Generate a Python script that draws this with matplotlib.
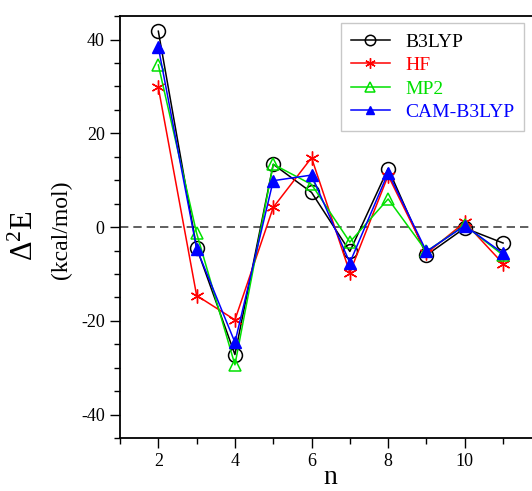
import matplotlib.pyplot as plt
from matplotlib.ticker import MultipleLocator, FixedLocator

n = [2, 3, 4, 5, 6, 7, 8, 9, 10, 11]
b3lyp = [41.8, -4.4, -27.2, 13.4, 7.4, -5.2, 12.5, -6.0, -0.2, -3.4]
hf = [29.8, -14.6, -19.8, 4.2, 14.8, -9.7, 11.0, -5.6, 1.0, -7.8]
mp2 = [34.6, -1.3, -29.4, 13.4, 9.1, -3.2, 6.0, -5.2, 0.4, -6.0]
cam_b3lyp = [38.4, -4.6, -24.6, 9.9, 11.1, -7.6, 11.6, -5.2, 0.3, -5.6]

plt.rcParams['font.family'] = ['Liberation Serif', 'DejaVu Serif']
plt.rcParams['mathtext.fontset'] = 'custom'
plt.rcParams['mathtext.rm'] = 'Liberation Serif'
plt.rcParams['mathtext.it'] = 'Liberation Serif:italic'
plt.rcParams['axes.unicode_minus'] = False

fig = plt.figure(figsize=(5.32, 4.91), dpi=100)
ax = fig.add_axes([0.2256, 0.108, 0.792, 0.859])

ax.axhline(0, color='#444444', linestyle='--', dashes=(5, 3), linewidth=1.2, zorder=1)

ax.plot(n, b3lyp, color='black', marker='o', markersize=10, markerfacecolor='none',
        markeredgewidth=1.1, linewidth=1.1, label='B3LYP')
ax.plot(n, hf, color='red', marker=(6, 2, 0), markersize=10, markeredgewidth=1.0,
        linewidth=1.1, label='HF')
ax.plot(n, mp2, color='#00e000', marker='^', markersize=9, markerfacecolor='none',
        markeredgewidth=1.1, linewidth=1.1, label='MP2')
ax.plot(n, cam_b3lyp, color='blue', marker='^', markersize=8, linewidth=1.1,
        label='CAM-B3LYP')

ax.set_xlim(1, 12)
ax.set_ylim(-45, 45)
ax.xaxis.set_major_locator(FixedLocator([2, 4, 6, 8, 10]))
ax.xaxis.set_minor_locator(FixedLocator([1, 3, 5, 7, 9, 11]))
ax.yaxis.set_major_locator(MultipleLocator(20))
ax.yaxis.set_minor_locator(MultipleLocator(5))
ax.tick_params(which='major', direction='out', length=7, width=1.0, labelsize=13, pad=4)
ax.tick_params(which='minor', direction='out', length=4, width=1.0)
for s in ax.spines.values():
    s.set_linewidth(1.3)

ax.set_xlabel('n', fontsize=20, labelpad=-4)
fig.text(0.047, 0.519, '$\\Delta^2$E', fontsize=22, rotation=90, ha='center', va='center')
fig.text(0.115, 0.532, '(kcal/mol)', fontsize=17, rotation=90, ha='center', va='center')

leg = ax.legend(loc='upper left', bbox_to_anchor=(0.525, 0.983), borderaxespad=0,
                fontsize=14, frameon=True, fancybox=False, edgecolor='#bbbbbb',
                handlelength=2.0, borderpad=0.5, labelspacing=0.3, markerscale=0.75)
for text, line in zip(leg.get_texts(), leg.get_lines()):
    text.set_color(line.get_color())

fig.savefig('out.png', dpi=100)
